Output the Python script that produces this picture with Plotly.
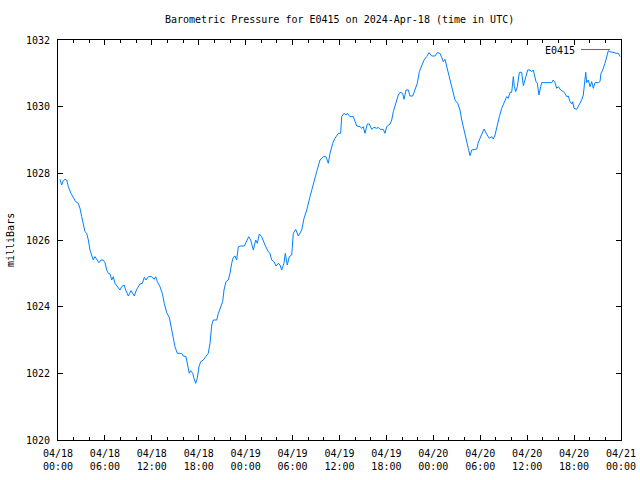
import pandas as pd
import plotly.graph_objects as go

# Hours since 2024-04-18 00:00 UTC, and pressure readings (mb)
hours = [0.26, 0.47, 0.68, 0.90, 1.11, 1.32, 1.66, 1.96, 2.26, 2.60, 2.81, 3.03, 3.24, 3.45, 3.67, 3.88,
         4.09, 4.31, 4.51, 4.73, 4.95, 5.24, 5.50, 5.79, 6.01, 6.23, 6.43, 6.65, 6.87, 7.07, 7.29, 7.63,
         7.93, 8.15, 8.44, 8.66, 8.99, 9.34, 9.55, 9.76, 10.06, 10.49, 10.78, 11.04, 11.25, 11.55, 11.98,
         12.28, 12.49, 12.70, 13.04, 13.34, 13.59, 13.68, 13.90, 14.23, 14.54, 14.75, 14.96, 15.26, 15.82,
         16.02, 16.37, 16.66, 16.79, 16.97, 17.23, 17.39, 17.61, 17.81, 18.03, 18.25, 18.58, 18.89, 19.22,
         19.44, 19.66, 19.86, 20.30, 20.50, 20.72, 21.06, 21.23, 21.48, 21.78, 22.00, 22.21, 22.42, 22.64,
         22.85, 23.06, 23.37, 23.83, 24.13, 24.39, 24.64, 24.98, 25.28, 25.49, 25.74, 26.05, 26.47, 26.89,
         27.11, 27.33, 27.62, 27.88, 28.17, 28.39, 28.61, 28.90, 29.07, 29.32, 29.58, 29.89, 30.09, 30.40,
         30.73, 31.17, 31.46, 31.81, 32.23, 32.65, 33.08, 33.51, 33.93, 34.27, 34.57, 34.79, 35.13, 35.42,
         35.85, 36.15, 36.28, 36.58, 36.83, 37.00, 37.34, 37.77, 38.20, 38.62, 38.84, 39.04, 39.26, 39.56,
         39.81, 40.12, 40.41, 40.76, 40.96, 41.18, 41.60, 41.82, 42.04, 42.46, 42.68, 42.88, 43.23, 43.52,
         43.74, 44.08, 44.25, 44.51, 44.80, 45.02, 45.36, 45.66, 45.95, 46.21, 46.51, 46.81, 47.15, 47.45,
         47.79, 48.21, 48.51, 48.85, 49.07, 49.27, 49.49, 49.79, 50.13, 50.48, 50.77, 51.12, 51.41, 51.63,
         51.92, 52.18, 52.47, 52.69, 52.91, 53.33, 53.55, 53.75, 54.19, 54.48, 54.83, 55.16, 55.47, 55.67,
         55.89, 56.10, 56.44, 56.74, 57.16, 57.38, 57.59, 57.81, 58.02, 58.23, 58.36, 58.53, 58.74, 59.00,
         59.30, 59.51, 59.72, 60.07, 60.36, 60.58, 60.78, 61.13, 61.30, 61.51, 61.73, 61.86, 63.14, 63.34,
         63.56, 63.78, 63.98, 64.29, 64.62, 64.84, 65.06, 65.26, 65.48, 65.70, 65.82, 65.99, 66.34, 66.67,
         66.97, 67.18, 67.31, 67.49, 67.61, 67.82, 68.04, 68.25, 68.46, 68.68, 69.10, 69.31, 69.44, 69.66,
         69.95, 70.17, 70.38, 70.59, 71.02, 71.45, 71.66, 71.88]

pressure = [1027.82, 1027.65, 1027.78, 1027.82, 1027.80, 1027.60, 1027.40, 1027.25, 1027.15, 1027.10, 1026.95,
            1026.70, 1026.45, 1026.25, 1026.20, 1026.00, 1025.70, 1025.50, 1025.40, 1025.50, 1025.42, 1025.32,
            1025.40, 1025.40, 1025.32, 1025.10, 1025.00, 1024.98, 1024.80, 1024.90, 1024.70, 1024.60, 1024.50,
            1024.60, 1024.65, 1024.50, 1024.32, 1024.48, 1024.40, 1024.32, 1024.52, 1024.68, 1024.70, 1024.88,
            1024.80, 1024.90, 1024.90, 1024.82, 1024.90, 1024.75, 1024.60, 1024.40, 1024.10, 1024.00, 1023.82,
            1023.68, 1023.35, 1023.05, 1022.80, 1022.60, 1022.60, 1022.52, 1022.50, 1022.15, 1022.00, 1022.08,
            1022.00, 1021.85, 1021.70, 1021.85, 1022.20, 1022.35, 1022.40, 1022.50, 1022.60, 1022.90, 1023.45,
            1023.60, 1023.60, 1023.80, 1023.95, 1024.15, 1024.50, 1024.75, 1024.80, 1025.00, 1025.30, 1025.48,
            1025.52, 1025.40, 1025.80, 1025.82, 1025.82, 1025.95, 1026.10, 1026.00, 1025.70, 1026.00, 1025.90,
            1026.18, 1026.10, 1025.85, 1025.65, 1025.60, 1025.40, 1025.35, 1025.22, 1025.30, 1025.25, 1025.10,
            1025.30, 1025.60, 1025.25, 1025.50, 1025.55, 1026.20, 1026.32, 1026.12, 1026.30, 1026.65, 1026.90,
            1027.30, 1027.70, 1028.05, 1028.40, 1028.50, 1028.50, 1028.30, 1028.60, 1028.90, 1029.05, 1029.20,
            1029.20, 1029.70, 1029.80, 1029.75, 1029.80, 1029.70, 1029.70, 1029.42, 1029.40, 1029.35, 1029.40,
            1029.20, 1029.48, 1029.48, 1029.32, 1029.38, 1029.35, 1029.38, 1029.32, 1029.32, 1029.20, 1029.40,
            1029.48, 1029.60, 1029.85, 1030.15, 1030.35, 1030.43, 1030.40, 1030.22, 1030.50, 1030.50, 1030.32,
            1030.32, 1030.55, 1030.70, 1031.05, 1031.25, 1031.40, 1031.50, 1031.62, 1031.52, 1031.52, 1031.62,
            1031.60, 1031.48, 1031.35, 1031.42, 1031.15, 1030.80, 1030.45, 1030.20, 1030.10, 1029.90, 1029.60,
            1029.30, 1028.95, 1028.75, 1028.53, 1028.70, 1028.72, 1028.73, 1028.93, 1029.17, 1029.33, 1029.17,
            1029.05, 1029.10, 1029.03, 1029.15, 1029.40, 1029.70, 1029.95, 1030.20, 1030.30, 1030.25, 1030.43,
            1030.43, 1030.90, 1030.60, 1030.45, 1030.60, 1031.03, 1031.03, 1030.63, 1030.80, 1031.10, 1031.10,
            1031.05, 1031.10, 1030.75, 1030.70, 1030.35, 1030.60, 1030.72, 1030.72, 1030.80, 1030.72, 1030.55,
            1030.60, 1030.50, 1030.45, 1030.40, 1030.30, 1030.32, 1030.15, 1030.08, 1030.15, 1029.95, 1029.92,
            1030.05, 1030.20, 1030.35, 1030.70, 1031.03, 1030.72, 1030.80, 1030.60, 1030.75, 1030.55, 1030.72,
            1030.72, 1030.75, 1031.00, 1031.10, 1031.30, 1031.50, 1031.68, 1031.65, 1031.62, 1031.60, 1031.60,
            1031.50]

series_name = "E0415"
title_text = "Barometric Pressure for E0415 on 2024-Apr-18 (time in UTC)"
y_label = "milliBars"
x_start = "2024-04-18 00:00"
x_end = "2024-04-21 00:00"
y_ticks = [1020, 1022, 1024, 1026, 1028, 1030, 1032]

times = pd.Timestamp(x_start) + pd.to_timedelta(hours, unit="h")

LINE = "rgb(0,128,255)"
FONT = "DejaVu Sans Mono"

fig = go.Figure()
fig.add_trace(go.Scatter(x=times, y=pressure, mode="lines", name=series_name,
                         line=dict(color=LINE, width=1), showlegend=False))

fig.update_layout(
    width=640, height=480,
    margin=dict(l=58, r=19, t=40, b=40),
    paper_bgcolor="white", plot_bgcolor="white",
    font=dict(family=FONT, size=10, color="black"),
    xaxis=dict(type="date", range=[x_start, x_end], showgrid=False, zeroline=False,
               automargin=False,
               showline=True, linecolor="black", linewidth=1, mirror="ticks",
               ticks="inside", ticklen=5, tickcolor="black",
               tick0=x_start, dtick=6 * 3600000, tickformat="%m/%d<br>%H:%M",
               ticklabelstandoff=4,
               minor=dict(ticks="inside", ticklen=3, dtick=2 * 3600000, tick0=x_start,
                          tickcolor="black", showgrid=False),
               tickfont=dict(family=FONT, size=10)),
    yaxis=dict(range=[1020, 1032], showgrid=False, zeroline=False,
               automargin=False,
               showline=True, linecolor="black", linewidth=1, mirror="ticks",
               ticks="inside", ticklen=5, tickcolor="black",
               tickvals=y_ticks, tickformat="d", ticklabelstandoff=5,
               tickfont=dict(family=FONT, size=10)),
    annotations=[
        dict(text=title_text, xref="paper", yref="paper", x=0.5, y=1 + 21 / 400,
             xanchor="center", yanchor="middle", showarrow=False, font=dict(size=10)),
        dict(text=y_label, xref="paper", yref="paper", x=-48 / 563, y=0.5, textangle=-90,
             xanchor="center", yanchor="middle", showarrow=False, font=dict(size=10)),
        dict(text=series_name, xref="paper", yref="paper", x=(577 - 58) / 563, y=(440 - 50) / 400,
             xanchor="right", yanchor="middle", showarrow=False, font=dict(size=10)),
    ],
    shapes=[dict(type="line", xref="paper", yref="paper",
                 x0=(581 - 58) / 563, x1=(610 - 58) / 563,
                 y0=(440 - 49.5) / 400, y1=(440 - 49.5) / 400,
                 line=dict(color=LINE, width=1))],
)

fig.write_html("out.html")
